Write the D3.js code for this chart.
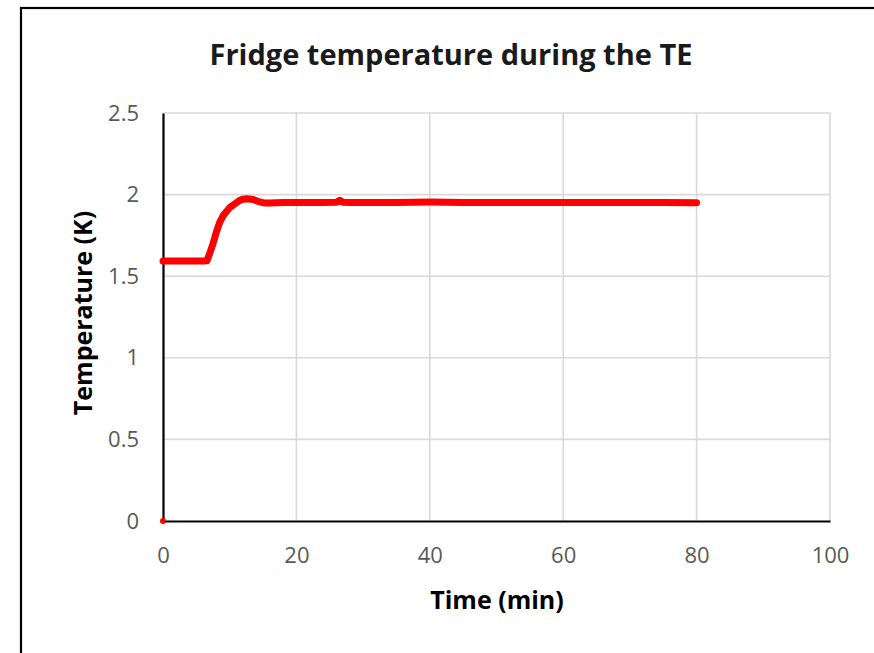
<!DOCTYPE html>
<html>
<head>
<meta charset="utf-8">
<script src="https://cdn.jsdelivr.net/npm/d3@7"></script>
<style>
  body { margin: 0; background: #fff; }
  text { font-family: "Open Sans", Lato, sans-serif; }
</style>
</head>
<body>
<svg id="chart" width="874" height="653"></svg>
<script>
const timeMin = [0, 1, 2, 3, 4, 5, 6, 6.6, 7, 7.5, 8, 8.5, 9, 10, 11, 11.5, 12, 12.6, 13.5, 14.5, 15.3, 16, 18, 20, 22, 24, 26, 26.5, 27, 28, 30, 35, 40, 45, 50, 55, 60, 65, 70, 75, 80];
const tempK = [1.593, 1.593, 1.593, 1.593, 1.593, 1.593, 1.593, 1.595, 1.64, 1.70, 1.77, 1.83, 1.87, 1.92, 1.95, 1.965, 1.972, 1.975, 1.97, 1.955, 1.948, 1.948, 1.951, 1.951, 1.951, 1.952, 1.953, 1.965, 1.953, 1.952, 1.952, 1.952, 1.954, 1.952, 1.951, 1.952, 1.951, 1.951, 1.951, 1.951, 1.950];
const extraPoint = [[0, 0]];
const xTicks = [0, 20, 40, 60, 80, 100];
const yTicks = [0, 0.5, 1, 1.5, 2, 2.5];

const svg = d3.select('#chart');
const margin = {left: 163, right: 44, top: 113, bottom: 132};
const width = 874 - margin.left - margin.right;
const height = 653 - margin.top - margin.bottom;

// outer frame (only top and left edges fall inside the picture)
svg.append('rect')
  .attr('x', 21).attr('y', 8)
  .attr('width', 900).attr('height', 700)
  .attr('fill', 'none').attr('stroke', '#000').attr('stroke-width', 2.2);

const x = d3.scaleLinear().domain([0, 100]).range([0, width]);
const y = d3.scaleLinear().domain([0, 2.5]).range([height, 0]);

const g = svg.append('g').attr('transform', `translate(${margin.left},${margin.top})`);

// gridlines
g.append('g')
  .selectAll('line.h')
  .data(yTicks.slice(1))
  .join('line')
  .attr('x1', 0).attr('x2', width)
  .attr('y1', d => y(d)).attr('y2', d => y(d))
  .attr('stroke', '#d9d9d9').attr('stroke-width', 1.6);

g.append('g')
  .selectAll('line.v')
  .data(xTicks.slice(1))
  .join('line')
  .attr('x1', d => x(d)).attr('x2', d => x(d))
  .attr('y1', 0).attr('y2', height)
  .attr('stroke', '#d9d9d9').attr('stroke-width', 1.6);

// axes
const xAxis = g.append('g')
  .attr('transform', `translate(0,${height})`)
  .call(d3.axisBottom(x).tickValues(xTicks).tickSize(0).tickPadding(26));
const yAxis = g.append('g')
  .call(d3.axisLeft(y).tickValues(yTicks).tickSize(0).tickPadding(24).tickFormat(d3.format('')));

[xAxis, yAxis].forEach(a => {
  a.select('.domain').attr('stroke', '#000').attr('stroke-width', 2.2);
  a.selectAll('text')
    .attr('fill', '#595959')
    .style('font-family', '"Open Sans", Lato, sans-serif')
    .style('font-size', '22px');
});

// data line
const line = d3.line()
  .x((d, i) => x(timeMin[i]))
  .y(d => y(d));

g.append('path')
  .datum(tempK)
  .attr('d', line)
  .attr('fill', 'none')
  .attr('stroke', '#ff0000')
  .attr('stroke-width', 7)
  .attr('stroke-linejoin', 'round')
  .attr('stroke-linecap', 'round');

g.selectAll('circle.extra')
  .data(extraPoint)
  .join('circle')
  .attr('cx', d => x(d[0])).attr('cy', d => y(d[1]))
  .attr('r', 3).attr('fill', '#ff0000');

// titles
svg.append('text')
  .attr('x', 451).attr('y', 65)
  .attr('text-anchor', 'middle')
  .style('font-size', '29px').style('font-weight', 'bold')
  .attr('fill', '#1a1a1a')
  .text('Fridge temperature during the TE');

svg.append('text')
  .attr('x', 497).attr('y', 609)
  .attr('text-anchor', 'middle')
  .style('font-size', '25px').style('font-weight', 'bold')
  .attr('fill', '#000')
  .text('Time (min)');

svg.append('text')
  .attr('transform', `translate(92,${margin.top + height / 2 - 4}) rotate(-90)`)
  .attr('text-anchor', 'middle')
  .style('font-size', '25px').style('font-weight', 'bold')
  .attr('fill', '#000')
  .text('Temperature (K)');
</script>
</body>
</html>
